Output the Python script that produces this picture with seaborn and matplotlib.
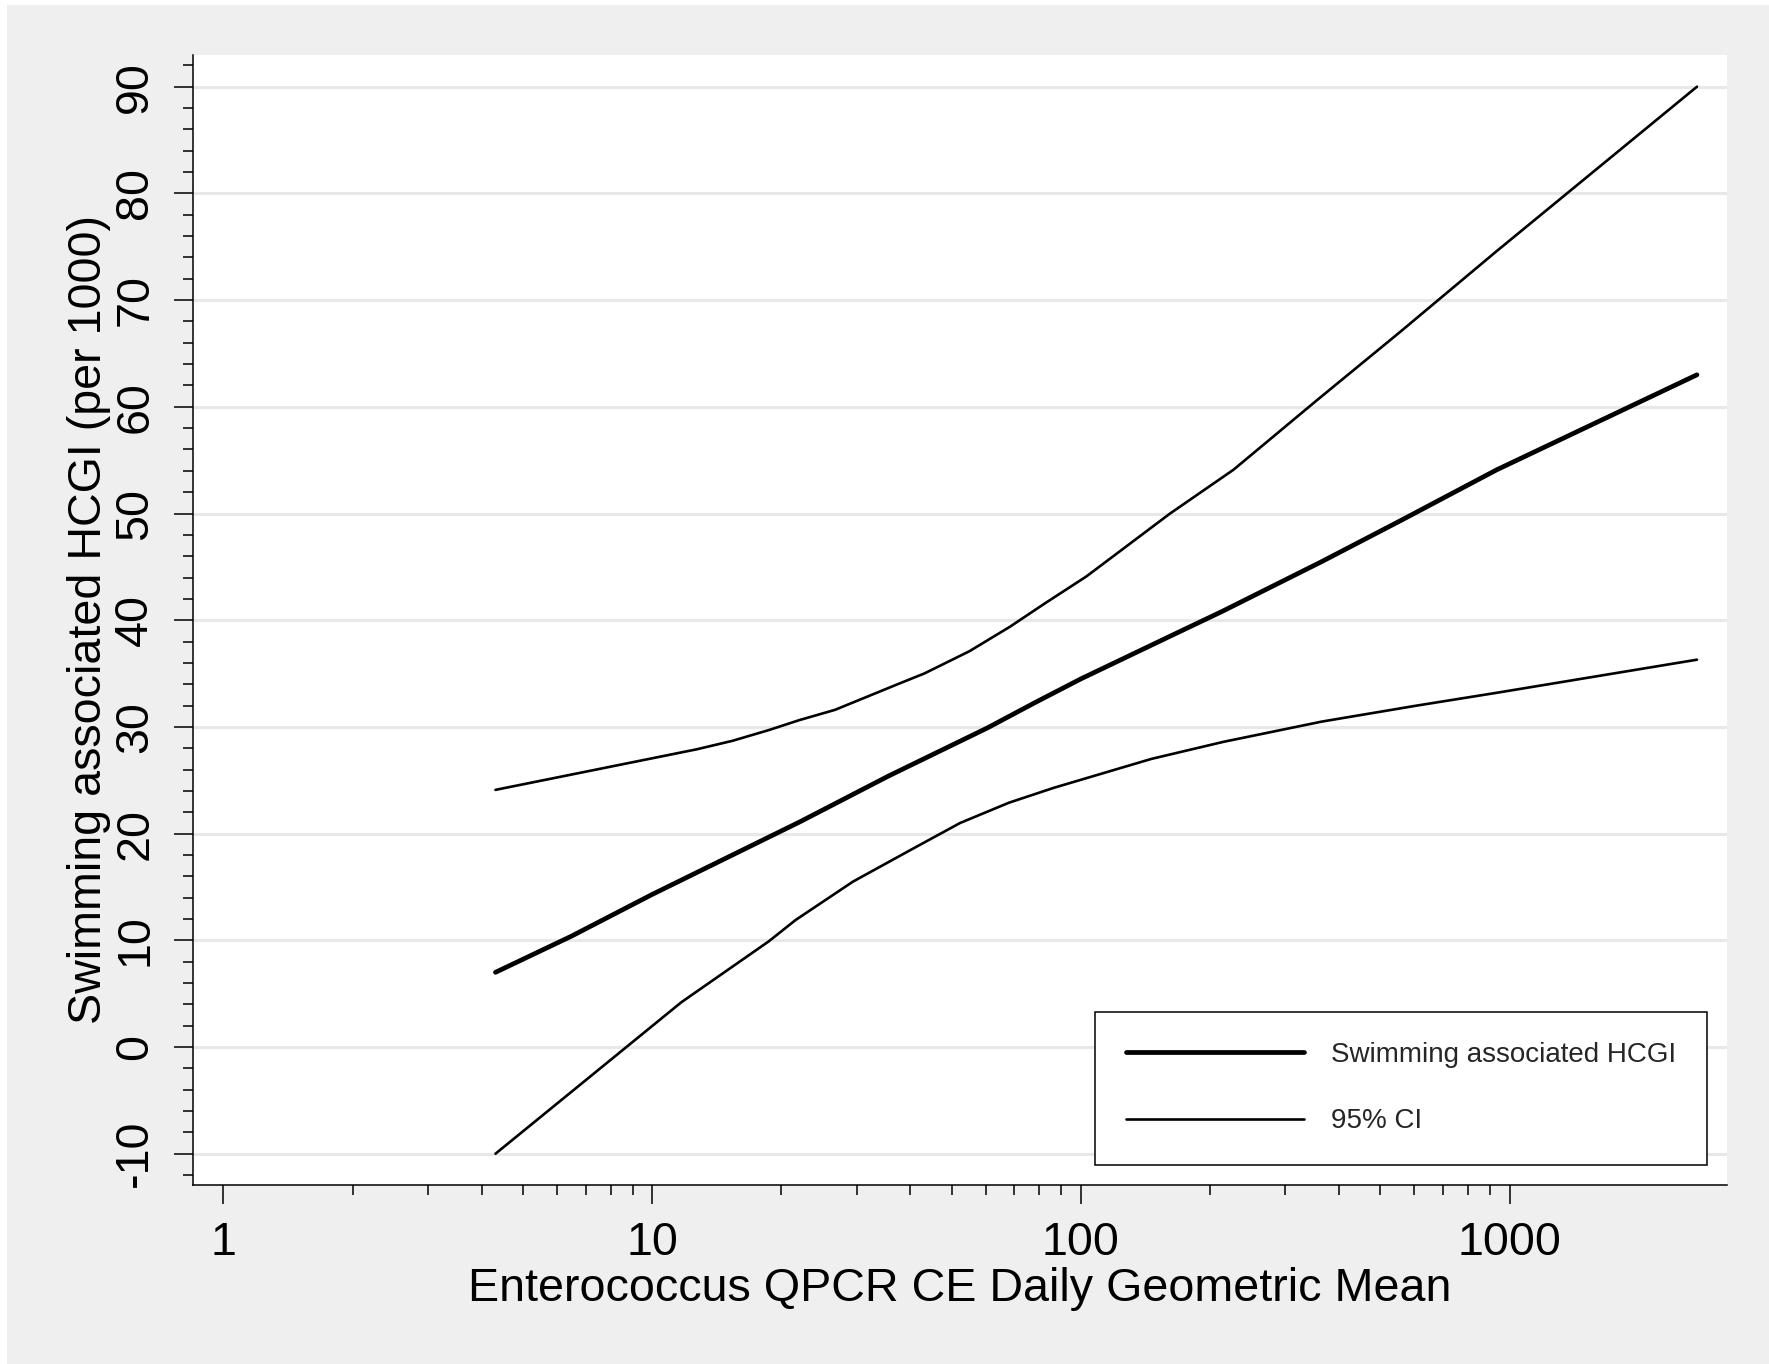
import matplotlib
matplotlib.use("Agg")
from matplotlib import pyplot as plt
from matplotlib.ticker import FixedLocator, NullFormatter
import matplotlib.patches as patches
import seaborn as sns
import pandas as pd

# 1) Data

# fitted swimming associated HCGI (per 1000)
fit_x = [4.31, 6.49, 10, 22.1, 35.6, 60.5, 77.5, 100, 161.5, 213, 365, 555, 934, 2737]
fit_y = [7.0, 10.4, 14.3, 21.1, 25.4, 29.9, 32.2, 34.5, 38.5, 40.8, 45.5, 49.3, 54.1, 63.0]

# upper 95% CI
upper_x = [4.31, 12.7, 15.4, 18.7, 22.1, 26.7, 37.9, 43.1, 55, 68.4, 82.6, 103,
           161.5, 227, 355, 555, 934, 2737]
upper_y = [24.1, 27.9, 28.7, 29.7, 30.65, 31.6, 34.1, 35.0, 37.1, 39.4, 41.6, 44.1,
           50.0, 54.1, 60.6, 67.0, 74.6, 90.0]

# lower 95% CI
lower_x = [4.31, 11.7, 18.7, 21.6, 29.4, 40.2, 52.3, 68, 86.6, 146, 215, 365,
           608, 934, 2737]
lower_y = [-10, 4.2, 9.9, 11.9, 15.5, 18.5, 21.0, 22.9, 24.3, 27.0, 28.6, 30.5,
           32.0, 33.2, 36.3]

x_ticks = [1, 10, 100, 1000]
x_tick_labels = ['1', '10', '100', '1000']
y_ticks = [-10, 0, 10, 20, 30, 40, 50, 60, 70, 80, 90]

fit = pd.DataFrame({'x': fit_x, 'y': fit_y})
upper = pd.DataFrame({'x': upper_x, 'y': upper_y})
lower = pd.DataFrame({'x': lower_x, 'y': lower_y})

# 2) Style

sns.set_theme(style='white')
plt.rcParams['font.family'] = ['Liberation Sans', 'DejaVu Sans']

fig = plt.figure(figsize=(17.69, 13.64), dpi=100)
fig.patch.set_facecolor('white')
# grey graph region (stata style), small white margin at top/left
fig.patches.append(patches.Rectangle((7 / 1769, 0), 1 - 7 / 1769, 1 - 5 / 1364,
                                     transform=fig.transFigure,
                                     facecolor='#efefef', edgecolor='none',
                                     zorder=-10))

ax = fig.add_axes([193 / 1769, 1 - 1185 / 1364, 1534 / 1769, 1130 / 1364])
ax.set_zorder(1)
ax.set_facecolor('white')

# 3) Plot the lines

sns.lineplot(data=fit, x='x', y='y', color='black', linewidth=3.4,
             label='Swimming associated HCGI', ax=ax, zorder=3)
sns.lineplot(data=upper, x='x', y='y', color='black', linewidth=1.9,
             label='95% CI', ax=ax, zorder=3)
sns.lineplot(data=lower, x='x', y='y', color='black', linewidth=1.9,
             ax=ax, zorder=3)

# 4) Axes

ax.set_xscale('log')
ax.set_xlim(0.849, 3216)
ax.set_ylim(-12.93, 92.97)

ax.xaxis.set_major_locator(FixedLocator(x_ticks))
ax.set_xticklabels(x_tick_labels)
minor_x = [m * d for d in [1, 10, 100] for m in range(2, 10)]
ax.xaxis.set_minor_locator(FixedLocator(minor_x))
ax.xaxis.set_minor_formatter(NullFormatter())

ax.set_yticks(y_ticks)
ax.set_yticklabels([str(v) for v in y_ticks], rotation=90, va='center')
ax.yaxis.set_minor_locator(FixedLocator(range(-12, 93, 2)))

ax.grid(axis='y', which='major', color='#e8e8e8', linewidth=2.2)
ax.set_axisbelow(True)

for side in ['top', 'right']:
    ax.spines[side].set_visible(False)
for side in ['left', 'bottom']:
    ax.spines[side].set_color('black')
    ax.spines[side].set_linewidth(1.1)

ax.tick_params(axis='both', which='major', direction='out', length=13.7,
               width=1.1, color='black', labelsize=33.6, labelcolor='black',
               left=True, bottom=True)
ax.tick_params(axis='both', which='minor', direction='out', length=7,
               width=1.1, color='black', left=True, bottom=True)
ax.tick_params(axis='x', which='major', pad=12)
ax.tick_params(axis='y', which='major', pad=12)

ax.set_xlabel('Enterococcus QPCR CE Daily Geometric Mean', fontsize=33.6,
              color='black', labelpad=2)
ax.set_ylabel('Swimming associated HCGI (per 1000)', fontsize=33.6,
              color='black', labelpad=1.5)

# 5) Legend

leg = ax.legend(loc='lower right', bbox_to_anchor=(0.987, 0.0177),
                fontsize=20, frameon=True, fancybox=False,
                handlelength=6.4, handletextpad=1.0, labelspacing=1.45,
                borderpad=1.1, borderaxespad=0)
leg.get_frame().set_edgecolor('black')
leg.get_frame().set_linewidth(1.1)
leg.get_frame().set_facecolor('white')
leg.get_frame().set_alpha(1)

fig.savefig('out.png', dpi=100, facecolor=fig.get_facecolor())
